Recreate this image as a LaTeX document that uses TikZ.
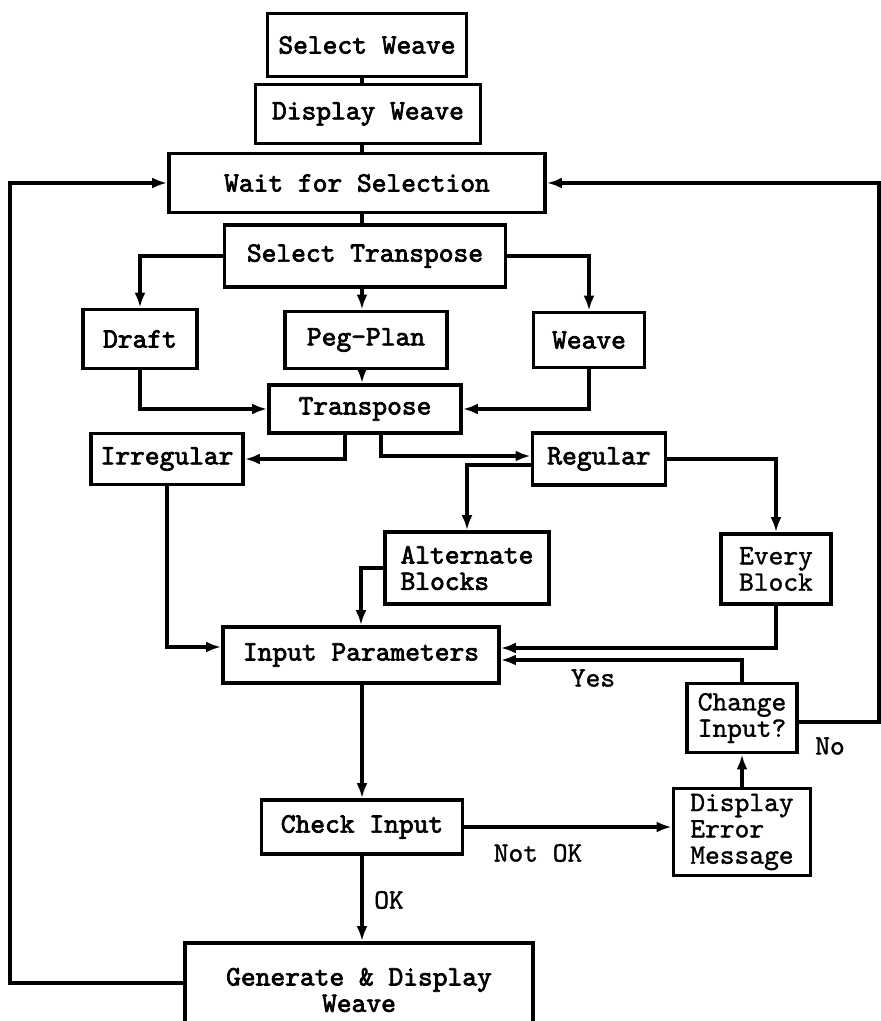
\documentclass[tikz,border=0pt]{standalone}
\usepackage{fontspec}
\usepackage{tikz}
\usetikzlibrary{arrows.meta}
\newfontfamily\monob[Extension=.otf,FakeBold=2.5]{lmmono10-regular}
\newfontfamily\monol[Extension=.otf,FakeBold=1.2]{lmmono10-regular}

\begin{document}
\begin{tikzpicture}[x=0.02cm,y=-0.02cm,line width=1.8pt,>={Latex[length=3mm,width=2.2mm]},
  box/.style={draw,line width=2.2pt,inner sep=0pt,font=\monob\fontsize{16}{15}\selectfont},
  lite/.style={font=\monol\fontsize{16}{15}\selectfont},
  lbl/.style={font=\monol\fontsize{16}{15}\selectfont}]
  \useasboundingbox (0,0) rectangle (881,1021);
  % --- cajas ---
  \node[box,minimum width=199*0.02cm,minimum height=63*0.02cm] (selw) at (367,45){Select Weave};
  \node[box,minimum width=225*0.02cm,minimum height=59*0.02cm] (dispw) at (368,114){Display Weave};
  \node[box,minimum width=376*0.02cm,minimum height=59*0.02cm] (wait) at (357,183){Wait for Selection};
  \node[box,minimum width=281*0.02cm,minimum height=62*0.02cm] (selt) at (365,256){Select Transpose};
  \node[box,minimum width=114*0.02cm,minimum height=59*0.02cm] (draft) at (140,339){Draft};
  \node[box,minimum width=162*0.02cm,minimum height=57*0.02cm] (peg) at (366,340){Peg-Plan};
  \node[box,minimum width=111*0.02cm,minimum height=55*0.02cm] (weave) at (589,340){Weave};
  \node[box,minimum width=192*0.02cm,minimum height=48*0.02cm] (trans) at (365,409){Transpose};
  \node[box,minimum width=152*0.02cm,minimum height=51*0.02cm] (irreg) at (167,459){Irregular};
  \node[box,minimum width=133*0.02cm,minimum height=52*0.02cm] (reg) at (599,459){Regular};
  \node[box,align=left,minimum width=164*0.02cm,minimum height=72*0.02cm] (alt) at (467,568){Alternate\\Blocks};
  \node[box,lite,align=left,minimum width=110*0.02cm,minimum height=70*0.02cm] (every) at (776,569){Every\\Block};
  \node[box,minimum width=276*0.02cm,minimum height=56*0.02cm] (input) at (361,655){Input Parameters};
  \node[box,lite,align=left,minimum width=110*0.02cm,minimum height=69*0.02cm] (change) at (742,718){Change\\Input?};
  \node[box,minimum width=201*0.02cm,minimum height=54*0.02cm] (check) at (362,827){Check Input};
  \node[box,lite,align=left,minimum width=137*0.02cm,minimum height=87*0.02cm] (dispe) at (742,832){Display\\Error\\Message};
  \node[box,align=center,minimum width=348*0.02cm,minimum height=94*0.02cm] (gen) at (359,990){Generate \& Display\\Weave};
  \coordinate (axis) at (362,0);
  \coordinate (lloop) at (10,0);
  \coordinate (rloop) at (879,0);
  % --- conexiones ---
  \draw (selw.south -| axis) -- (dispw.north -| axis);
  \draw (dispw.south -| axis) -- (wait.north -| axis);
  \draw (wait.south -| axis) -- (selt.north -| axis);
  \draw[->] (selt.west) -| (draft.north);
  \draw[->] (selt.south -| axis) -- (peg.north -| axis);
  \draw[->] (selt.east) -| (weave.north);
  \draw[->] (draft.south) |- (trans.west);
  \draw[->] (peg.south -| axis) -- (trans.north -| axis);
  \draw[->] (weave.south) |- (trans.east);
  \draw[->] ([xshift=-0.4cm]trans.south) |- (irreg.east);
  \draw[->] ([xshift=0.32cm]trans.south) |- ([yshift=0.06cm]reg.west);
  \draw[->] ([yshift=-0.12cm]reg.west) -| (alt.north);
  \draw[->] (reg.east) -| (every.north);
  \draw[->] (irreg.south) |- ([yshift=0.16cm]input.west);
  \draw[->] (alt.west) -| (input.north);
  \draw[->] (every.south) |- ([yshift=0.14cm]input.east);
  \draw[->] (change.north) |- ([yshift=-0.1cm]input.east);
  \draw[->] ([yshift=-0.08cm]change.east) -| (rloop |- wait.east) -- (wait.east);
  \draw[->] (input.south -| axis) -- (check.north -| axis);
  \draw[->] (check.east) -- (dispe.west |- check.east);
  \draw[->] (dispe.north) -- (change.south);
  \draw[->] (check.south -| axis) -- (gen.north -| axis);
  \draw[->] ([yshift=0.14cm]gen.west) -| (lloop |- wait.west) -- (wait.west);
  % --- etiquetas ---
  \node[lbl] (yes) at (593,678){Yes};
  \node[lbl] (no) at (830,746){No};
  \node[lbl] (notok) at (538,853){Not OK};
  \node[lbl] (ok) at (389,900){OK};
\end{tikzpicture}
\end{document}
